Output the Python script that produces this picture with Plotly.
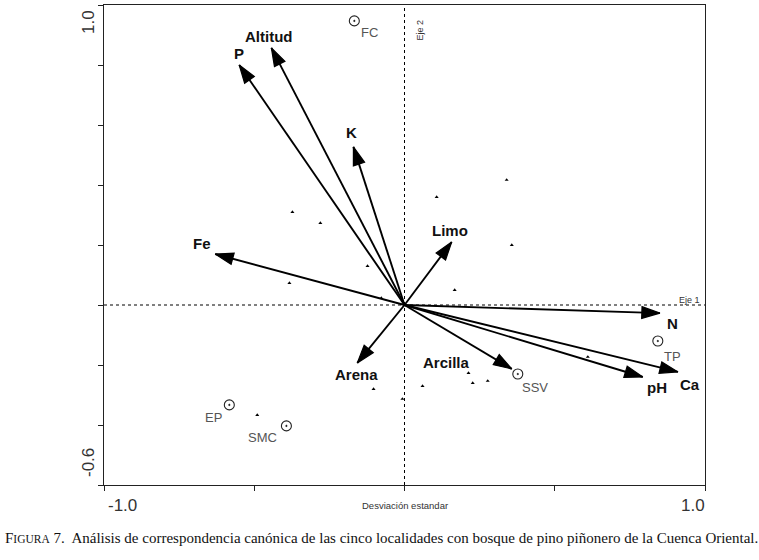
import plotly.graph_objects as go

# ---- data ----
var_names = ["P", "Altitud", "K", "Fe", "Limo", "N", "Ca", "pH", "Arcilla", "Arena"]
var_x = [-0.55, -0.443, -0.17, -0.63, 0.157, 0.85, 0.91, 0.793, 0.357, -0.157]
var_y = [0.80, 0.857, 0.527, 0.17, 0.21, -0.027, -0.223, -0.24, -0.213, -0.193]

site_names = ["FC", "TP", "SSV", "EP", "SMC"]
site_x = [-0.167, 0.843, 0.377, -0.583, -0.393]
site_y = [0.947, -0.12, -0.23, -0.333, -0.403]

species_x = [0.34, 0.107, -0.373, -0.28, 0.357, -0.123, -0.383, 0.167, -0.077,
             0.61, -0.103, -0.007, 0.06, 0.213, 0.227, 0.277, -0.49]
species_y = [0.417, 0.36, 0.31, 0.273, 0.2, 0.13, 0.073, 0.05, 0.023,
             -0.173, -0.28, -0.313, -0.27, -0.227, -0.26, -0.253, -0.367]

x_ticks = [-1.0, -0.5, 0.0, 0.5, 1.0]
y_ticks = [-0.6, -0.4, -0.2, 0.0, 0.2, 0.4, 0.6, 0.8, 1.0]

# ---- label offsets in pixels (styling) ----
var_off = {"P": (0, 12), "Altitud": (-3, 11), "K": (-2, 14), "Fe": (-13, 11),
           "Limo": (-2, 12), "N": (13, -10), "Ca": (12, -13), "pH": (14, -10),
           "Arcilla": (-65, 6), "Arena": (-1, -12)}
site_off = {"FC": (15, -12), "TP": (15, -15), "SSV": (17, -13), "EP": (-16, -13),
            "SMC": (-24, -12)}

fig = go.Figure()

# species points
fig.add_trace(go.Scatter(x=species_x, y=species_y, mode="markers",
                         marker=dict(symbol="triangle-up", size=3.5, color="#000000"),
                         hoverinfo="skip", showlegend=False))

# environmental arrows: shafts
for name, tx, ty in zip(var_names, var_x, var_y):
    fig.add_trace(go.Scatter(
        x=[0, tx], y=[0, ty], mode="lines",
        line=dict(color="#000000", width=1.9),
        hoverinfo="skip", showlegend=False))
# arrow heads
for name, tx, ty in zip(var_names, var_x, var_y):
    fig.add_trace(go.Scatter(
        x=[0, tx], y=[0, ty], mode="markers", opacity=1,
        marker=dict(symbol=["circle", "arrow"], size=[0, 19], color="#000000",
                    opacity=1, angleref="previous",
                    line=dict(width=1.2, color="#000000")),
        hoverinfo="skip", showlegend=False))

# sites
fig.add_trace(go.Scatter(x=site_x, y=site_y, mode="markers",
                         marker=dict(symbol="circle-open-dot", size=10, color="#222",
                                     line=dict(width=1.1)),
                         hoverinfo="skip", showlegend=False))

ann = []
for name, tx, ty in zip(var_names, var_x, var_y):
    dx, dy = var_off[name]
    ann.append(dict(x=tx, y=ty, xref="x", yref="y", text="<b>%s</b>" % name,
                    showarrow=False, xshift=dx, yshift=dy,
                    font=dict(family="Liberation Sans, Arial", size=15, color="#111")))
for name, sx, sy in zip(site_names, site_x, site_y):
    dx, dy = site_off[name]
    ann.append(dict(x=sx, y=sy, xref="x", yref="y", text=name, showarrow=False,
                    xshift=dx, yshift=dy,
                    font=dict(family="Liberation Sans, Arial", size=13, color="#555")))

tick_font = dict(family="Liberation Sans, Arial", size=17, color="#333")
ann += [
    dict(x=x_ticks[0], y=y_ticks[0], xref="x", yref="y", text="-1.0", showarrow=False,
         xshift=18, yshift=-20, font=tick_font),
    dict(x=x_ticks[-1], y=y_ticks[0], xref="x", yref="y", text="1.0", showarrow=False,
         xshift=-12, yshift=-20, font=tick_font),
    dict(x=x_ticks[0], y=y_ticks[-1], xref="x", yref="y", text="1.0", showarrow=False,
         xshift=-16, yshift=-17, textangle=-90, font=tick_font),
    dict(x=x_ticks[0], y=y_ticks[0], xref="x", yref="y", text="-0.6", showarrow=False,
         xshift=-16, yshift=22, textangle=-90, font=tick_font),
    dict(x=0, y=y_ticks[0], xref="x", yref="y", text="Desviación estandar", showarrow=False,
         yshift=-20, font=dict(family="Liberation Sans, Arial", size=9.5, color="#333")),
    dict(x=0, y=y_ticks[-1], xref="x", yref="y", text="Eje 2", showarrow=False,
         xshift=15, yshift=-25, textangle=-90,
         font=dict(family="Liberation Sans, Arial", size=9, color="#333")),
    dict(x=x_ticks[-1], y=0, xref="x", yref="y", text="Eje 1", showarrow=False,
         xshift=-16, yshift=5, font=dict(family="Liberation Sans, Arial", size=9, color="#333")),
    dict(x=-0.168, y=-0.131, xref="paper", yref="paper", xanchor="left",
         text="F<span style='font-size:11.5px'>IGURA</span> 7.  Análisis de correspondencia canónica de las cinco localidades con bosque de pino piñonero de la Cuenca Oriental.",
         showarrow=False, font=dict(family="Liberation Serif, Times New Roman", size=15, color="#111")),
]

shapes = [
    dict(type="line", xref="x", yref="y", x0=x_ticks[0], x1=x_ticks[-1], y0=0, y1=0,
         line=dict(color="black", width=1, dash="3px,3px")),
    dict(type="line", xref="x", yref="y", x0=0, x1=0, y0=y_ticks[0], y1=y_ticks[-1],
         line=dict(color="black", width=1, dash="3px,3px")),
]

fig.update_layout(
    width=759, height=560,
    margin=dict(l=104, r=54, t=5, b=75),
    paper_bgcolor="white", plot_bgcolor="white",
    annotations=ann, shapes=shapes, showlegend=False,
    xaxis=dict(range=[-1, 1], tickvals=x_ticks, ticktext=[""] * len(x_ticks),
               ticks="outside", ticklen=5, tickcolor="#222", showgrid=False,
               zeroline=False, showline=True, linecolor="#222", linewidth=1.3,
               mirror=True, fixedrange=True),
    yaxis=dict(range=[-0.6, 1.0], tickvals=y_ticks, ticktext=[""] * len(y_ticks),
               ticks="outside", ticklen=5, tickcolor="#222", showgrid=False,
               zeroline=False, showline=True, linecolor="#222", linewidth=1.3,
               mirror=True, fixedrange=True),
)

fig.write_html("out.html", config={"displayModeBar": False},
               post_script="document.body.style.margin='0';")
